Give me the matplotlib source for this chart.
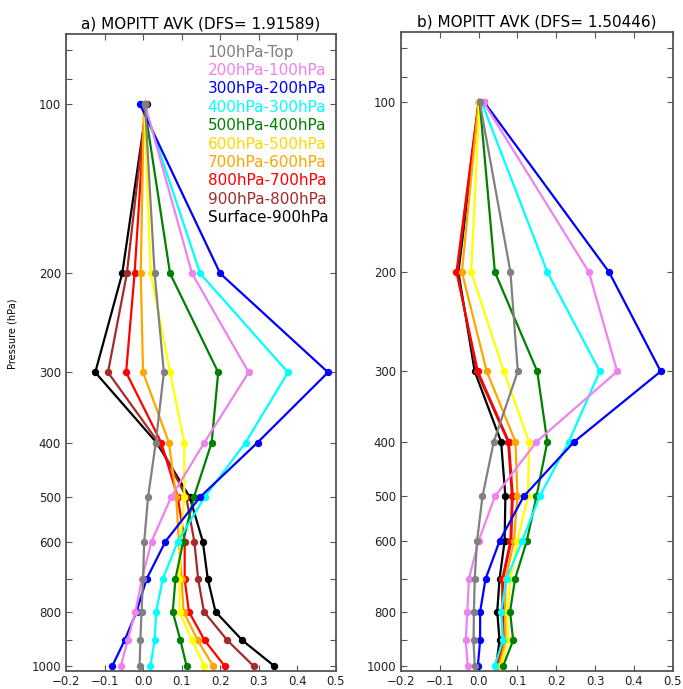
import matplotlib
matplotlib.use("Agg")
import matplotlib.pyplot as plt

# pressure levels (hPa)
levels = [100, 200, 300, 400, 500, 600, 700, 800, 900, 1000]

labels = ["100hPa-Top", "200hPa-100hPa", "300hPa-200hPa", "400hPa-300hPa",
          "500hPa-400hPa", "600hPa-500hPa", "700hPa-600hPa", "800hPa-700hPa",
          "900hPa-800hPa", "Surface-900hPa"]
colors = ["gray", "violet", "blue", "cyan", "green", "yellow", "orange",
          "red", "brown", "black"]
text_colors = ["gray", "violet", "blue", "cyan", "green", "gold", "orange",
               "red", "brown", "black"]

# panel a) averaging kernel rows
avk_a = [
    [0.005, 0.030, 0.054, 0.033, 0.013, 0.003, 0.000, -0.004, -0.007, -0.009],
    [0.005, 0.127, 0.274, 0.159, 0.073, 0.022, -0.003, -0.020, -0.040, -0.058],
    [-0.008, 0.200, 0.480, 0.297, 0.148, 0.058, 0.009, -0.017, -0.048, -0.080],
    [0.002, 0.148, 0.376, 0.266, 0.160, 0.090, 0.051, 0.034, 0.030, 0.019],
    [0.003, 0.070, 0.195, 0.178, 0.132, 0.104, 0.084, 0.077, 0.097, 0.113],
    [0.003, 0.020, 0.070, 0.107, 0.107, 0.097, 0.094, 0.095, 0.127, 0.159],
    [0.002, -0.006, 0.000, 0.067, 0.086, 0.093, 0.100, 0.105, 0.142, 0.182],
    [0.006, -0.022, -0.044, 0.047, 0.090, 0.108, 0.108, 0.119, 0.160, 0.212],
    [0.008, -0.042, -0.091, 0.040, 0.112, 0.133, 0.143, 0.158, 0.219, 0.287],
    [0.010, -0.054, -0.124, 0.035, 0.121, 0.155, 0.168, 0.188, 0.258, 0.341],
]

# panel b) averaging kernel rows
avk_b = [
    [0.003, 0.082, 0.101, 0.039, 0.010, -0.004, -0.010, -0.012, -0.013, -0.010],
    [0.013, 0.284, 0.357, 0.149, 0.042, 0.000, -0.025, -0.029, -0.033, -0.028],
    [0.015, 0.336, 0.469, 0.246, 0.116, 0.054, 0.018, 0.004, 0.004, -0.002],
    [0.008, 0.177, 0.312, 0.232, 0.157, 0.112, 0.072, 0.058, 0.063, 0.041],
    [0.003, 0.042, 0.151, 0.177, 0.149, 0.124, 0.094, 0.081, 0.089, 0.063],
    [0.002, -0.019, 0.065, 0.130, 0.127, 0.100, 0.082, 0.074, 0.075, 0.058],
    [0.000, -0.043, 0.021, 0.095, 0.100, 0.091, 0.070, 0.068, 0.070, 0.052],
    [0.000, -0.057, -0.002, 0.078, 0.088, 0.084, 0.063, 0.063, 0.065, 0.048],
    [0.000, -0.055, -0.005, 0.076, 0.086, 0.082, 0.061, 0.061, 0.063, 0.046],
    [0.001, -0.052, -0.010, 0.058, 0.069, 0.067, 0.054, 0.048, 0.054, 0.045],
]

titles = ["a) MOPITT AVK (DFS= 1.91589)", "b) MOPITT AVK (DFS= 1.50446)"]

yticks = [80, 90, 100, 200, 300, 400, 500, 600, 700, 800, 900, 1000]
yticklabels = ["", "", "100", "200", "300", "400", "500", "600", "", "800", "", "1000"]
xticks = [-0.2, -0.1, 0.0, 0.1, 0.2, 0.3, 0.4, 0.5]

fig = plt.figure(figsize=(6.83, 6.89), dpi=100)
ax_a = fig.add_axes([0.0966, 0.0261, 0.395, 0.9245])
ax_b = fig.add_axes([0.587, 0.0261, 0.398, 0.9275])

for ax, avk, title in zip([ax_a, ax_b], [avk_a, avk_b], titles):
    handles = []
    # draw surface row first so the top rows end up on top
    for row, col, lab in reversed(list(zip(avk, colors, labels))):
        h, = ax.plot(row, levels, color=col, lw=1.6, marker="o", ms=4.3,
                     mec=col, label=lab)
        handles.append(h)
    handles = handles[::-1]

    ax.set_yscale("log")
    ax.set_ylim(1020, 75)
    ax.set_yticks(yticks)
    ax.set_yticklabels(yticklabels)
    ax.minorticks_off()
    ax.set_xlim(-0.2, 0.5)
    ax.set_xticks(xticks)
    ax.set_xticklabels(["\u22120.2", "\u22120.1", "0.0", "0.1", "0.2", "0.3", "0.4", "0.5"])
    ax.tick_params(direction="in", top=True, right=True, labelsize=8.5,
                   length=4, width=0.8, color="#555555", labelcolor="#222222")
    ax.tick_params(axis="x", pad=3)
    for sp in ax.spines.values():
        sp.set_color("#555555")
        sp.set_linewidth(1.3)
    ax.set_title(title, fontsize=11, pad=4)

    if ax is ax_a:
        leg = ax.legend(handles=handles, loc="upper left", bbox_to_anchor=(0.485, 1.0),
                        frameon=False, handlelength=0, handletextpad=0,
                        fontsize=11, labelspacing=0.22, borderaxespad=0.3)
        for t, c in zip(leg.get_texts(), text_colors):
            t.set_color(c)
        for h in leg.legend_handles:
            h.set_visible(False)

ax_a.set_ylabel("Pressure (hPa)", fontsize=7)
ax_a.yaxis.set_label_coords(-0.178, 0.53)

fig.savefig("out.png", dpi=100)
